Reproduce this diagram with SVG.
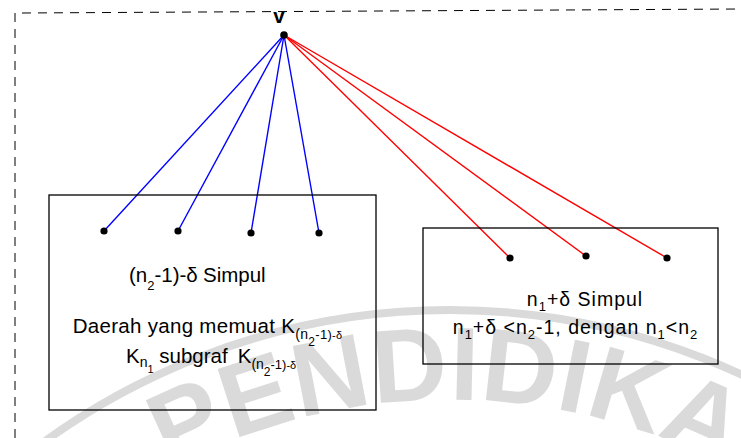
<svg xmlns="http://www.w3.org/2000/svg" width="741" height="438" viewBox="0 0 741 438">
<style>
.t{font-family:"Liberation Sans",Arial,sans-serif;fill:#000;font-size:20.5px}
.r{font-size:19.5px;letter-spacing:1px}
.box{fill:none;stroke:#000;stroke-width:1.3}
.dot{fill:#000}
.blue{stroke:#0000ff;stroke-width:1.4;fill:none}
.red{stroke:#ff0000;stroke-width:1.4;fill:none}
.frame{stroke:#000;stroke-width:1;stroke-dasharray:9 7;fill:none}
.wm{font-family:"Liberation Sans",Arial,sans-serif;font-weight:bold;font-size:104px;fill:#dadada;letter-spacing:0.5px}
</style>
<defs>
<path id="wmArc" d="M -9.6 614 A 600 600 0 0 1 909.6 614"/>
</defs>
<g id="watermark">
<circle cx="450" cy="1000" r="690" fill="none" stroke="#dadada" stroke-width="8"/>
<text class="wm"><textPath href="#wmArc" startOffset="232">PENDIDIKA</textPath></text>
</g>
<g id="frame">
<path class="frame" d="M22 13 L741 9"/>
<path class="frame" d="M15 13 L15 438"/>
</g>
<g id="connectors">
<path class="blue" d="M284 35 L104 231"/>
<path class="blue" d="M284 35 L178 231"/>
<path class="blue" d="M284 35 L251 233"/>
<path class="blue" d="M284 35 L319 233"/>
<path class="red" d="M284 35 L510 258"/>
<path class="red" d="M284 35 L586 256"/>
<path class="red" d="M284 35 L667 258"/>
</g>
<g id="node-v">
<circle class="dot" cx="284" cy="35" r="3.8"/>
<text class="t" x="279" y="23" text-anchor="middle" font-weight="bold" font-size="21">v</text>
</g>
<g id="node-left-box">
<rect class="box" x="49" y="195" width="327" height="215"/>
<text class="t" x="129" y="282">(n<tspan font-size="13" dy="8">2</tspan><tspan dy="-8">-1)-δ</tspan><tspan x="203">Simpul</tspan></text>
<text class="t" x="72.7" y="333" style="letter-spacing:0.3px">Daerah yang memuat K<tspan font-size="14" dy="6">(n</tspan><tspan font-size="12" dy="7">2</tspan><tspan font-size="13" dy="-7">-1)</tspan><tspan font-size="11">-δ</tspan></text>
<text class="t" x="126" y="363">K<tspan font-size="14" dy="4">n</tspan><tspan font-size="11" dy="6">1</tspan><tspan dy="-10"> subgraf</tspan><tspan dx="10">K</tspan><tspan font-size="14" dy="6">(n</tspan><tspan font-size="12" dy="7">2</tspan><tspan font-size="13" dy="-7">-1)</tspan><tspan font-size="11">-δ</tspan></text>
</g>
<g id="node-b1"><circle class="dot" cx="104" cy="231" r="3.6"/></g>
<g id="node-b2"><circle class="dot" cx="178" cy="231" r="3.6"/></g>
<g id="node-b3"><circle class="dot" cx="251" cy="233" r="3.6"/></g>
<g id="node-b4"><circle class="dot" cx="319" cy="233" r="3.6"/></g>
<g id="node-right-box">
<rect class="box" x="423" y="228" width="295" height="136"/>
<text class="t r" x="585" y="306" text-anchor="middle">n<tspan font-size="13" dy="5">1</tspan><tspan dy="-5">+δ Simpul</tspan></text>
<text class="t r" x="575.5" y="334" text-anchor="middle">n<tspan font-size="13" dy="5">1</tspan><tspan dy="-5">+δ &lt;n</tspan><tspan font-size="13" dy="5">2</tspan><tspan dy="-5">-1, dengan n</tspan><tspan font-size="13" dy="5">1</tspan><tspan dy="-5">&lt;n</tspan><tspan font-size="13" dy="5">2</tspan></text>
</g>
<g id="node-r1"><circle class="dot" cx="510" cy="258" r="3.6"/></g>
<g id="node-r2"><circle class="dot" cx="586" cy="256" r="3.6"/></g>
<g id="node-r3"><circle class="dot" cx="667" cy="258" r="3.6"/></g>
</svg>
